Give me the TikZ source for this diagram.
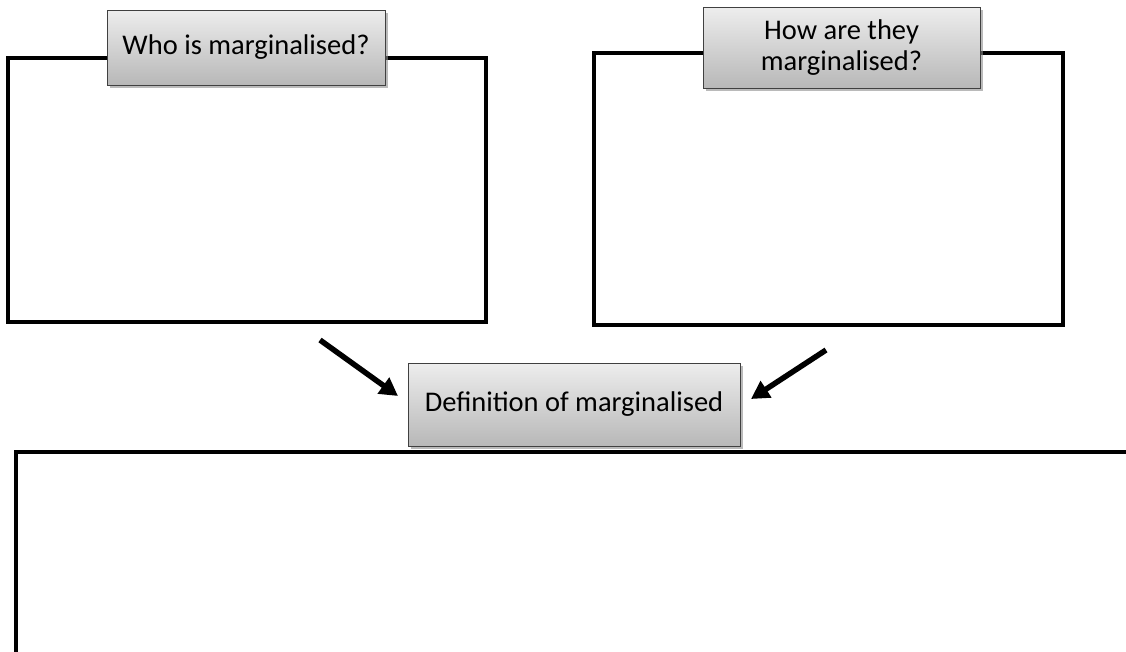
\documentclass[tikz,border=0pt]{standalone}
\usepackage{fontspec}
\setmainfont{Carlito}
\usetikzlibrary{arrows.meta,shadows}
\begin{document}
\begin{tikzpicture}[x=1pt,y=-1pt,
  frame/.style={draw=black,line width=3.2pt},
  label/.style={draw=black!75,line width=0.9pt,top color=black!7,bottom color=black!28,
    font=\fontsize{28.5}{31}\selectfont,text=black,align=center,inner sep=0pt,
    drop shadow={shadow xshift=2.5pt,shadow yshift=-2.5pt,fill=black!45,opacity=0.6}},
  arr/.style={line width=5.5pt,-{Triangle[length=18pt,width=19pt]}}]
\useasboundingbox (0,0) rectangle (1126,651);
\fill[white] (0,0) rectangle (1126,651);
% frames
\draw[frame] (8,58) rectangle (486,322);
\draw[frame] (594,53) rectangle (1063,325);
\draw[frame] (16,660) -- (16,452) -- (1135,452);
% labels
\node[label,minimum width=278pt,minimum height=75pt] (who) at (246,47.5) {Who is marginalised?};
\node[label,minimum width=277pt,minimum height=81pt] (how) at (841.5,47.5) {How are they\\marginalised?};
\node[label,minimum width=332pt,minimum height=83pt] (def) at (574,404.5) {Definition of marginalised};
% arrows
\coordinate (a1s) at (320,340);
\coordinate (a1e) at (398,396);
\coordinate (a2s) at (826,350);
\coordinate (a2e) at (751,399);
\draw[arr] (a1s) -- (a1e);
\draw[arr] (a2s) -- (a2e);
\end{tikzpicture}
\end{document}
